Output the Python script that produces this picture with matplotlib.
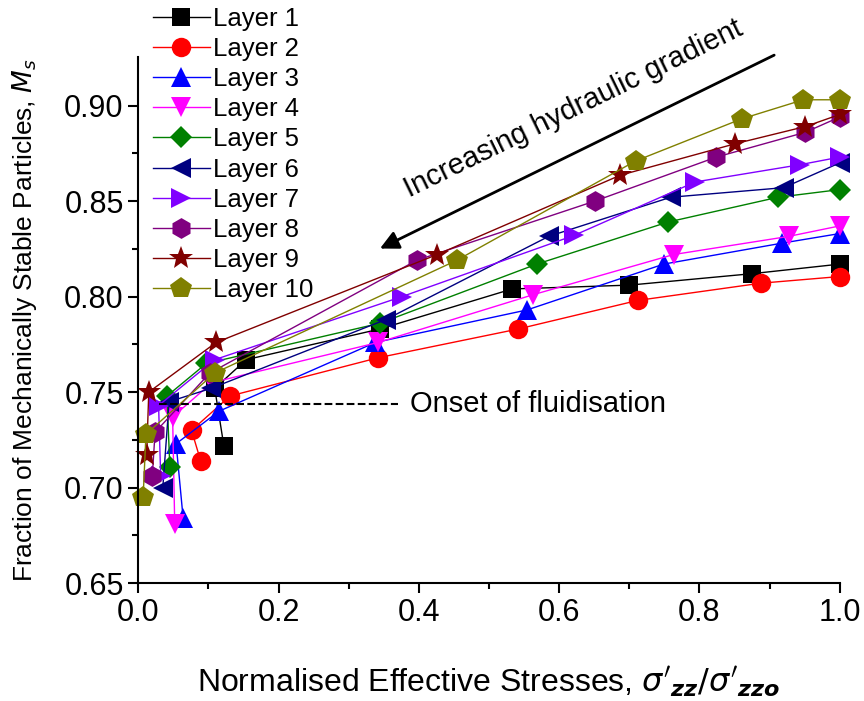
import matplotlib
matplotlib.use('Agg')
import matplotlib.pyplot as plt

plt.rcParams['font.family'] = ['Liberation Sans', 'DejaVu Sans']
plt.rcParams['mathtext.fontset'] = 'dejavusans'

# data (x = normalised stress, y = Ms)
layer_names = ['Layer 1', 'Layer 2', 'Layer 3', 'Layer 4', 'Layer 5',
               'Layer 6', 'Layer 7', 'Layer 8', 'Layer 9', 'Layer 10']

x1 = [1.0, 0.875, 0.70, 0.533, 0.344, 0.154, 0.109, 0.122]
y1 = [0.817, 0.812, 0.806, 0.804, 0.783, 0.767, 0.752, 0.722]
x2 = [1.0, 0.887, 0.712, 0.541, 0.342, 0.131, 0.076, 0.089]
y2 = [0.8105, 0.807, 0.798, 0.783, 0.768, 0.748, 0.730, 0.714]
x3 = [1.0, 0.918, 0.749, 0.554, 0.338, 0.115, 0.054, 0.064]
y3 = [0.833, 0.828, 0.817, 0.793, 0.776, 0.740, 0.723, 0.684]
x4 = [1.0, 0.927, 0.763, 0.563, 0.342, 0.105, 0.049, 0.052]
y4 = [0.837, 0.8315, 0.822, 0.801, 0.776, 0.755, 0.737, 0.681]
x5 = [1.0, 0.912, 0.755, 0.568, 0.344, 0.097, 0.041, 0.045]
y5 = [0.856, 0.852, 0.839, 0.817, 0.786, 0.765, 0.748, 0.711]
x6 = [1.0, 0.920, 0.759, 0.585, 0.353, 0.104, 0.044, 0.035]
y6 = [0.870, 0.857, 0.852, 0.8315, 0.788, 0.752, 0.745, 0.700]
x7 = [1.0, 0.943, 0.794, 0.621, 0.376, 0.109, 0.029, 0.032]
y7 = [0.873, 0.869, 0.860, 0.832, 0.800, 0.767, 0.743, 0.706]
x8 = [1.0, 0.951, 0.824, 0.651, 0.397, 0.102, 0.024, 0.020]
y8 = [0.894, 0.886, 0.873, 0.850, 0.819, 0.760, 0.729, 0.706]
x9 = [1.0, 0.951, 0.851, 0.687, 0.426, 0.111, 0.015, 0.012]
y9 = [0.8953, 0.889, 0.880, 0.8635, 0.822, 0.776, 0.750, 0.717]
x10 = [1.0, 0.948, 0.860, 0.709, 0.454, 0.109, 0.011, 0.007]
y10 = [0.903, 0.903, 0.893, 0.871, 0.819, 0.760, 0.728, 0.695]

xs = [x1, x2, x3, x4, x5, x6, x7, x8, x9, x10]
ys = [y1, y2, y3, y4, y5, y6, y7, y8, y9, y10]

colors = ['black', 'red', 'blue', '#FF00FF', '#008000',
          '#000080', '#8000FF', '#800080', '#800000', '#808000']
markers = ['s', 'o', '^', 'v', 'D', '<', '>', 'h', '*', 'p']
sizes = [13, 14, 15, 15, 11, 15, 15, 15, 18, 16]

fig = plt.figure(figsize=(8.64, 7.01), dpi=100)
ax = fig.add_axes([0.160, 0.168, 0.812, 0.751])

for x, y, c, m, s, name in zip(xs, ys, colors, markers, sizes, layer_names):
    ax.plot(x, y, color=c, marker=m, markersize=s, linewidth=1,
            markeredgewidth=0, label=name, clip_on=False)

ax.set_xlim(0, 1.0)
ax.set_ylim(0.65, 0.9255)
ax.set_xticks([0.0, 0.2, 0.4, 0.6, 0.8, 1.0])
ax.set_xticks([0.1, 0.3, 0.5, 0.7, 0.9], minor=True)
ax.set_yticks([0.65, 0.70, 0.75, 0.80, 0.85, 0.90])
ax.set_yticks([0.675, 0.725, 0.775, 0.825, 0.875], minor=True)
ax.set_xticklabels(['0.0', '0.2', '0.4', '0.6', '0.8', '1.0'])
ax.set_yticklabels(['0.65', '0.70', '0.75', '0.80', '0.85', '0.90'])
ax.tick_params(which='major', direction='out', length=7, width=1.5, labelsize=22)
ax.tick_params(which='minor', direction='out', length=4, width=1.5)

for side in ['top', 'right']:
    ax.spines[side].set_visible(False)
for side in ['left', 'bottom']:
    ax.spines[side].set_linewidth(1.5)

ax.set_xlabel("Normalised Effective Stresses, $\\sigma'_{\\boldsymbol{zz}}/\\sigma'_{\\boldsymbol{zzo}}$",
              fontsize=23, labelpad=26)
ax.set_ylabel('Fraction of Mechanically Stable Particles, $M_s$', fontsize=19, labelpad=18)

# onset of fluidisation
ax.hlines(0.744, 0.03, 0.37, colors='black', linestyles='--', linewidth=1.5)
ax.text(0.387, 0.744, 'Onset of fluidisation', fontsize=21, va='center', ha='left')

# hydraulic gradient arrow
ax.annotate('', xy=(0.341, 0.8245), xytext=(0.91, 0.927),
            arrowprops=dict(arrowstyle='-|>', color='black', lw=2,
                            mutation_scale=28),
            annotation_clip=False)
ax.text(0.621, 0.8985, 'Increasing hydraulic gradient', fontsize=21,
        rotation=26, ha='center', va='center', rotation_mode='anchor')

ax.legend(loc='upper left', bbox_to_anchor=(0.021, 1.095), frameon=False,
          fontsize=18.5, handlelength=2.2, handletextpad=0.15, labelspacing=0.24,
          borderpad=0, borderaxespad=0)

fig.savefig('out.png', dpi=100)
